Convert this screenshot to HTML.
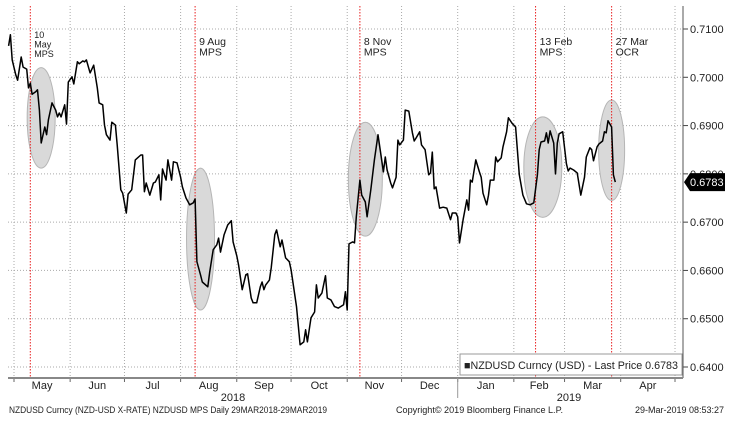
<!DOCTYPE html>
<html><head><meta charset="utf-8"><style>
body{margin:0;background:#fff}
svg text{font-family:"Liberation Sans",sans-serif;fill:#222}
</style></head><body>
<svg id="c" width="734" height="424" xmlns="http://www.w3.org/2000/svg">
<g id="grid"></g>
<g id="shade"></g>
<g id="events"></g>
<g id="series"></g>
<g id="axes"></g>
</svg>
<script>
// day offsets from 2018-05-01
const dates=[-3,-2,-1,1,2,4,5,7,8,9,
10,12,13,14,15,17,18,19,21,23,
24,25,26,28,29,30,32,33,35,36,
38,39,40,42,44,46,47,49,50,51,
53,54,56,57,59,60,62,63,65,67,
70,71,72,73,75,77,78,80,81,82,
84,85,87,88,90,92,93,95,97,99,
100,101,103,104,107,108,110,112,113,114,
116,118,120,121,123,124,126,128,129,131,
132,134,136,137,138,139,141,142,144,145,
147,148,150,152,153,156,158,160,161,162,
164,166,167,168,170,172,173,175,177,179,
182,183,184,185,187,188,189,191,192,194,
195,197,199,201,204,205,206,208,209,211,
212,213,215,216,218,220,221,222,224,225,
227,229,230,231,232,233,235,237,239,241,
242,244,245,246,248,250,251,252,253,255,
257,258,259,261,262,263,265,266,267,269,
270,272,273,275,277,279,281,283,285,287,
289,290,291,293,294,295,296,298,299,300,
301,303,305,306,307,309,311,313,315,316,
318,319,320,322,323,325,326,327,328,330,
331,332];
const prices=[.7065,.7088,.7036,.7005,.6994,.7042,.7021,.7017,.6978,.6988,
.6965,.6970,.6974,.6932,.6864,.6897,.6881,.6912,.6947,.6932,
.6918,.6926,.6918,.6943,.6903,.6990,.7001,.6986,.7032,.7028,
.7034,.7032,.7036,.7009,.7025,.6978,.6947,.6943,.6901,.6881,
.6870,.6907,.6901,.6860,.6767,.6760,.6719,.6758,.6767,.6829,
.6839,.6839,.6763,.6781,.6756,.6781,.6783,.6798,.6746,.6810,
.6787,.6829,.6787,.6825,.6823,.6793,.6773,.6750,.6736,.6740,
.6748,.6618,.6591,.6576,.6566,.6595,.6643,.6653,.6667,.6638,
.6674,.6694,.6703,.6659,.6630,.6611,.6560,.6591,.6593,.6543,
.6533,.6533,.6566,.6576,.6560,.6570,.6580,.6605,.6674,.6684,
.6649,.6663,.6626,.6618,.6601,.6525,.6446,.6452,.6477,.6452,
.6502,.6514,.6570,.6543,.6553,.6589,.6543,.6539,.6525,.6522,
.6529,.6556,.6518,.6655,.6659,.6657,.6711,.6787,.6756,.6742,
.6711,.6767,.6829,.6881,.6804,.6835,.6808,.6781,.6771,.6793,
.6870,.6860,.6870,.6932,.6930,.6885,.6868,.6874,.6887,.6860,
.6850,.6798,.6802,.6845,.6769,.6773,.6729,.6731,.6729,.6705,
.6719,.6719,.6711,.6657,.6705,.6746,.6725,.6787,.6783,.6829,
.6804,.6793,.6760,.6736,.6756,.6787,.6787,.6835,.6825,.6833,
.6856,.6887,.6916,.6905,.6897,.6798,.6756,.6738,.6736,.6740,
.6798,.6850,.6866,.6868,.6885,.6864,.6889,.6864,.6800,.6864,
.6883,.6887,.6821,.6806,.6812,.6808,.6802,.6756,.6793,.6835,
.6854,.6850,.6827,.6856,.6862,.6868,.6887,.6885,.6910,.6897,
.6798,.6783];
const months=["May","Jun","Jul","Aug","Sep","Oct","Nov","Dec","Jan","Feb","Mar","Apr"];
const monthStarts=[0,31,61,92,123,153,184,214,245,276,304,335,365];
const yTicks=[0.64,0.65,0.66,0.67,0.68,0.69,0.70,0.71];
const eventDays=[9,100,191,288,330];
const eventLabels=[["10","May","MPS"],["9 Aug","MPS"],["8 Nov","MPS"],["13 Feb","MPS"],["27 Mar","OCR"]];
const ellipseDays=[15,103,194,292,330];
const ellipseVals=[0.6916,0.6665,0.6789,0.6814,0.6849];
const ellipseSpan=[0.0104,0.0147,0.0118,0.0104,0.0104];
const ellipseW=[14,14,17,19,13];

const X=d=>14+d*1.811, Y=v=>29+(0.71-v)*4828.6;
const NS="http://www.w3.org/2000/svg";
function mk(p,t,a){const e=document.createElementNS(NS,t);for(const k in a)e.setAttribute(k,a[k]);p.appendChild(e);return e;}
const grid=document.getElementById('grid'),axes=document.getElementById('axes');
yTicks.forEach(v=>{
 const l=mk(grid,'line',{x1:8,x2:683,y1:Y(v),y2:Y(v),stroke:'#aaa','stroke-dasharray':'1,2'});
 
 
 mk(axes,'line',{x1:683,x2:688,y1:Y(v),y2:Y(v),stroke:'#444'});
 const t=mk(axes,'text',{x:690,y:Y(v)+4,'font-size':'11'});t.textContent=v.toFixed(4);
 
 
});
monthStarts.forEach((d,i)=>{
 const l=mk(grid,'line',{x1:X(d),x2:X(d),y1:6,y2:378,stroke:'#aaa','stroke-dasharray':'1,2'});
 
 
 mk(axes,'line',{x1:X(d),x2:X(d),y1:378,y2:382,stroke:'#666'});
 if(i<months.length){const t=mk(axes,'text',{x:(X(d)+X(monthStarts[i+1]))/2,y:389,'font-size':'11','text-anchor':'middle'});t.textContent=months[i];
 
 }
});
const sh=document.getElementById('shade');
ellipseDays.forEach((d,i)=>{const e=mk(sh,'ellipse',{cx:X(d),cy:Y(ellipseVals[i]),rx:ellipseW[i],ry:ellipseSpan[i]*4828.6,fill:'#d9d9d9',stroke:'#b5b5b5','stroke-width':1});
 
 });
const ev=document.getElementById('events');
eventDays.forEach((d,i)=>{const l=mk(ev,'line',{x1:X(d),x2:X(d),y1:6,y2:378,stroke:'#e82020','stroke-dasharray':'1.5,1.5'});
 
 
 const small=eventLabels[i].length>2;
 eventLabels[i].forEach((s,j)=>{const t=mk(ev,'text',{x:X(d)+4,y:small?38+j*9.5:45+j*10.5,'font-size':small?'9':'10.5'});t.textContent=s;
 
 });
});
const ser=document.getElementById('series');
const p=mk(ser,'polyline',{points:dates.map((d,i)=>X(d).toFixed(1)+','+Y(prices[i]).toFixed(1)).join(' '),fill:'none',stroke:'#000','stroke-width':1.5,'stroke-linejoin':'round'});


mk(axes,'line',{x1:683,x2:683,y1:6,y2:378,stroke:'#555'});
mk(axes,'line',{x1:8,x2:683,y1:378,y2:378,stroke:'#888','stroke-width':2});
mk(axes,'line',{x1:X(245),x2:X(245),y1:378,y2:398,stroke:'#999'});
[["2018",233],["2019",569]].forEach(a=>{const t=mk(axes,'text',{x:a[1],y:401,'font-size':'11','text-anchor':'middle'});t.textContent=a[0];
 
 });
const last=prices[prices.length-1];
const tag=mk(axes,'path',{d:`M684 ${Y(last)} L690 ${Y(last)-9} L725 ${Y(last)-9} L725 ${Y(last)+9} L690 ${Y(last)+9} Z`,fill:'#000'});


const lt=mk(axes,'text',{x:690,y:Y(last)+4,'font-size':'11'});lt.style.fill='#fff';lt.textContent=last.toFixed(4);


const lg=mk(axes,'rect',{x:460,y:354,width:222,height:21,fill:'#fff',stroke:'#999'});


const lgt=mk(axes,'text',{x:464,y:369,'font-size':'11',textLength:214,lengthAdjust:'spacingAndGlyphs'});lgt.textContent='■NZDUSD Curncy (USD) - Last Price '+last.toFixed(4);


const f1=mk(axes,'text',{x:9,y:413,'font-size':'9',textLength:318,lengthAdjust:'spacingAndGlyphs'});f1.textContent='NZDUSD Curncy (NZD-USD X-RATE) NZDUSD MPS  Daily 29MAR2018-29MAR2019';


const f2=mk(axes,'text',{x:396,y:413,'font-size':'9',textLength:167,lengthAdjust:'spacingAndGlyphs'});f2.textContent='Copyright© 2019 Bloomberg Finance L.P.';


const f3=mk(axes,'text',{x:724,y:413,'font-size':'9','text-anchor':'end'});f3.textContent='29-Mar-2019 08:53:27';


</script>
</body></html>
